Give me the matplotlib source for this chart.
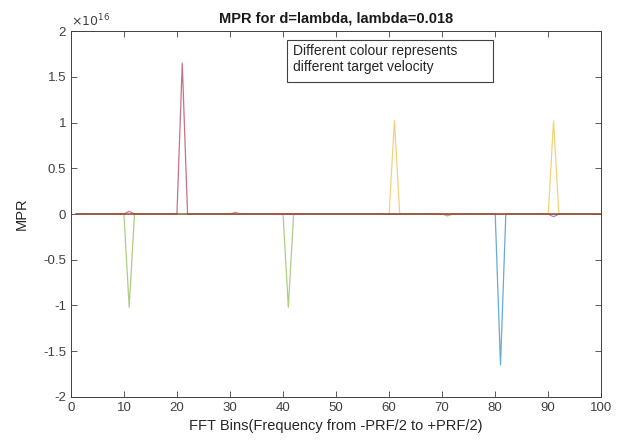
import numpy as np
import matplotlib.pyplot as plt
from matplotlib.patches import Rectangle

plt.rcParams['font.family'] = ['Liberation Sans', 'DejaVu Sans']

# FFT bins 1..100, values in units of 1e16
bins = np.arange(1, 101)

# (colour, peak bins, peak values) for each target velocity
series_colors = ['#0072BD', '#D95319', '#EDB120', '#7E2F8E', '#77AC30', '#A2142F']
series_bins = [[81], [31, 71], [61, 91], [11, 91], [11, 41], [21]]
series_peaks = [[-1.65], [0.02, -0.02], [1.02, 1.02], [0.03, -0.03], [-1.02, -1.02], [1.65]]

fig = plt.figure(figsize=(6.27, 4.45), dpi=100)
ax = fig.add_axes([0.113, 0.108, 0.846, 0.822])

for color, pk_bins, pk_vals in zip(series_colors, series_bins, series_peaks):
    mpr = np.zeros(len(bins))
    for b, v in zip(pk_bins, pk_vals):
        mpr[b - 1] = v
    ax.plot(bins, mpr * 1e16, color=color, lw=0.9, alpha=0.6)

ax.set_xlim(0, 100)
ax.set_ylim(-2e16, 2e16)
ax.set_xticks(np.arange(0, 101, 10))
ax.set_yticks(np.arange(-2, 2.01, 0.5) * 1e16)
ax.set_yticklabels(['-2', '-1.5', '-1', '-0.5', '0', '0.5', '1', '1.5', '2'])
ax.tick_params(direction='in', top=True, right=True, length=4, width=0.6,
               labelsize=9.5, colors='#404040', labelcolor='#404040')
for sp in ax.spines.values():
    sp.set_color('#404040')
    sp.set_linewidth(0.7)

ax.text(0.0, 1.005, r'$\times10^{16}$', transform=ax.transAxes, fontsize=9,
        color='#404040', ha='left', va='bottom')
ax.set_title('MPR for d=lambda, lambda=0.018', fontsize=10.5, fontweight='bold',
             color='#1a1a1a', pad=6)
ax.set_xlabel('FFT Bins(Frequency from -PRF/2 to +PRF/2)', fontsize=10.5, color='#262626')
ax.set_ylabel('MPR', fontsize=10.5, color='#262626', labelpad=10)

fig.patches.append(Rectangle((287 / 627, (445 - 82) / 445), 206 / 627, 42 / 445,
                             transform=fig.transFigure, fill=False,
                             edgecolor='#404040', lw=0.8))
fig.text(293 / 627, (445 - 59) / 445,
         'Different colour represents\ndifferent target velocity',
         fontsize=10, color='#262626', ha='left', va='center', linespacing=1.25)

fig.savefig('out.png', dpi=100, facecolor='white')
